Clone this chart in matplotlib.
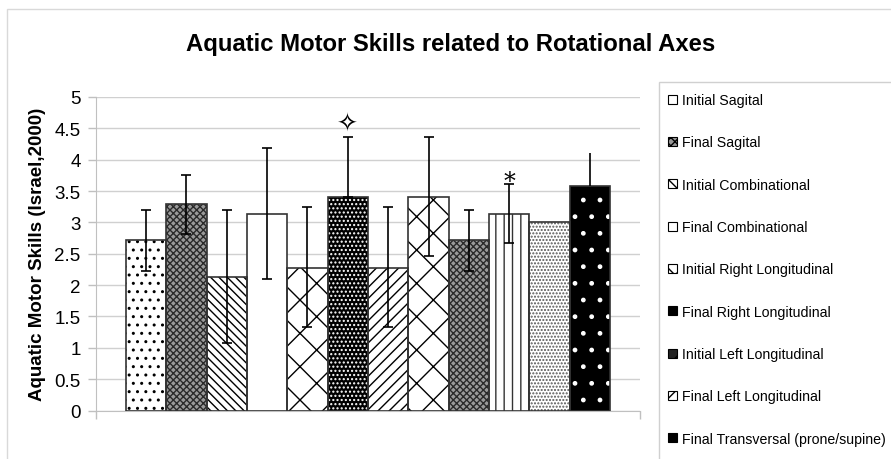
import matplotlib.pyplot as plt
from matplotlib.patches import Patch, Rectangle

plt.rcParams['font.family'] = ['Liberation Sans', 'DejaVu Sans']

# Verdier lest av figuren
bar_values = [2.72, 3.29, 2.13, 3.14, 2.28, 3.41, 2.28, 3.41, 2.72, 3.14, 3.00, 3.58]
err_low = [0.49, 0.48, 1.06, 1.05, 0.95, 0.0, 0.95, 0.95, 0.49, 0.47, 0.0, 0.0]
err_high = [0.47, 0.47, 1.06, 1.05, 0.96, 0.95, 0.96, 0.95, 0.47, 0.47, 0.0, 0.52]

legend_labels = ['Initial Sagital', 'Final Sagital', 'Initial Combinational',
                 'Final Combinational', 'Initial Right Longitudinal',
                 'Final Right Longitudinal', 'Initial Left Longitudinal',
                 'Final Left Longitudinal', 'Final Transversal (prone/supine)']

y_ticks = [0, 0.5, 1, 1.5, 2, 2.5, 3, 3.5, 4, 4.5, 5]
y_ticklabels = ['0', '0.5', '1', '1.5', '2', '2.5', '3', '3.5', '4', '4.5', '5']

# Stil for hver søyle: (fyllfarge, skravur, skravurfarge)
bar_styles = [
    ('white', '..', 'black'),
    ('#9a9a9a', 'xxxxx', '#2a2a2a'),
    ('white', '\\\\\\\\', 'black'),
    ('white', '', 'black'),
    ('white', 'x', 'black'),
    ('black', '....', 'white'),
    ('white', '///', 'black'),
    ('white', 'x', 'black'),
    ('#9a9a9a', 'xxxxx', '#2a2a2a'),
    ('white', '||', '#333333'),
    ('white', '.....', '#555555'),
    ('black', '.', 'white'),
]
legend_styles = [
    ('white', '.', 'black'),
    ('#999999', 'xxxx', '#333333'),
    ('white', '\\\\\\', 'black'),
    ('white', '', 'black'),
    ('white', 'xx', 'black'),
    ('black', '..', 'white'),
    ('#222222', '//', 'white'),
    ('white', '//', 'black'),
    ('black', '.', 'white'),
]

fig = plt.figure(figsize=(8.91, 4.60), dpi=100)
ax = fig.add_axes([96 / 891, 1 - 411.5 / 460, 544 / 891, 313.5 / 460])

x = list(range(len(bar_values)))
for i, v in enumerate(bar_values):
    fc, h, hc = bar_styles[i]
    ax.bar(i, v, width=1.0, color=fc, hatch=h, edgecolor=hc, linewidth=0, zorder=2)
ax.bar(x, bar_values, width=1.0, fill=False, edgecolor='#333333', linewidth=1.2, zorder=3)

# Feilstolper
caps_idx = [i for i in x if i != 11 and i != 10]
ax.errorbar([x[i] for i in caps_idx], [bar_values[i] for i in caps_idx],
            yerr=[[err_low[i] for i in caps_idx], [err_high[i] for i in caps_idx]],
            fmt='none', ecolor='black', elinewidth=1.2, capsize=3.5, capthick=1.2, zorder=4)
ax.errorbar([x[11]], [bar_values[11]], yerr=[[err_low[11]], [err_high[11]]],
            fmt='none', ecolor='black', elinewidth=1.2, capsize=0, zorder=4)

# Markeringer
ax.text(5, 4.57, '\u2727', ha='center', va='center', fontsize=18,
        family=['DejaVu Sans'], zorder=5)
ax.text(9, 3.66, '*', ha='center', va='center', fontsize=17,
        family=['DejaVu Serif'], zorder=5)

ax.set_ylim(0, 5)
ax.set_xlim(-0.5 - 0.738, 11.5 + 0.738)
ax.set_yticks(y_ticks)
ax.set_yticklabels(y_ticklabels, fontsize=13.5)
ax.set_xticks([-0.5 - 0.738, 11.5 + 0.738])
ax.set_xticklabels([])
ax.tick_params(axis='both', color='#c0c0c0', length=6, width=1, direction='out')
ax.tick_params(axis='y', pad=5)
ax.yaxis.grid(True, color='#d0d0d0', linewidth=1, zorder=0)
ax.set_axisbelow(True)
for s in ['top', 'right']:
    ax.spines[s].set_visible(False)
for s in ['left', 'bottom']:
    ax.spines[s].set_color('#c0c0c0')

ax.set_ylabel('Aquatic Motor Skills (Israel,2000)', fontsize=13.5, fontweight='bold', labelpad=6)
fig.text(451 / 891, 1 - 45 / 460, 'Aquatic Motor Skills related to Rotational Axes',
         ha='center', va='center', fontsize=17.2, fontweight='bold')

# Ramme rundt diagrammet og rundt forklaringen
fig.add_artist(Rectangle((7 / 891, -0.1), 1.2, 1.1 - 10 / 460, transform=fig.transFigure,
                         fill=False, edgecolor='#d9d9d9', linewidth=1))
fig.add_artist(Rectangle((659 / 891, -0.1), 1.0, 1.1 - 83 / 460, transform=fig.transFigure,
                         fill=False, edgecolor='#d0d0d0', linewidth=1))

handles = [Patch(facecolor=fc, hatch=h, edgecolor='black', linewidth=0.8)
           for fc, h, hc in legend_styles]
leg = fig.legend(handles, legend_labels, loc='upper left',
                 bbox_to_anchor=(668 / 891, 1 - 94 / 460), frameon=False,
                 fontsize=10.2, labelspacing=2.0, handlelength=0.6, handleheight=0.6,
                 handletextpad=0.4, borderaxespad=0, borderpad=0)

fig.savefig('out.png', dpi=100)
